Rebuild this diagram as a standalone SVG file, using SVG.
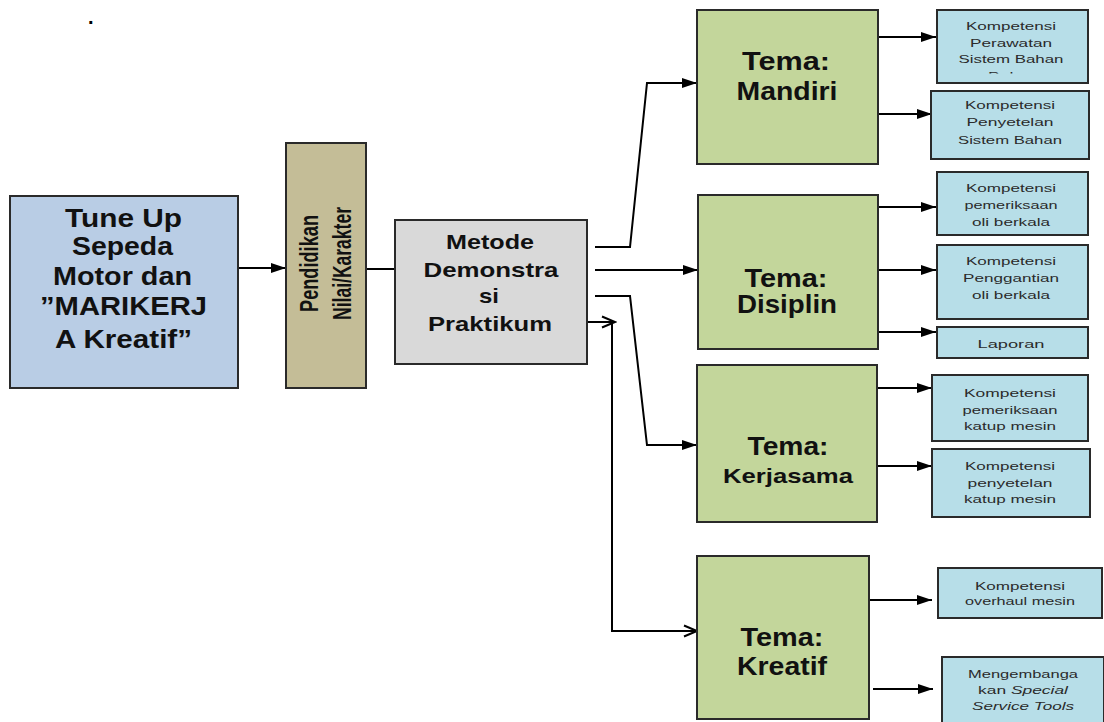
<svg xmlns="http://www.w3.org/2000/svg" width="1104" height="722" viewBox="0 0 1104 722">
<style>
.box{stroke:#2a2a2a;stroke-width:2}
.main{fill:#b9cde5}
.tan{fill:#c4bd97}
.gray{fill:#d9d9d9}
.green{fill:#c3d69b}
.comp{fill:#b7dee8}
.big{font-family:"Liberation Sans",Arial,sans-serif;font-weight:bold;fill:#111;text-anchor:middle}
.small{font-family:"Liberation Sans",Arial,sans-serif;font-size:11.5px;fill:#2b2b2b;text-anchor:middle}
.rot{font-family:"Liberation Sans",Arial,sans-serif;font-size:26px;font-weight:bold;fill:#111;text-anchor:middle}
.ln{fill:none;stroke:#000;stroke-width:2}
</style>
<defs>
<marker id="f" markerUnits="userSpaceOnUse" markerWidth="16" markerHeight="12" refX="15" refY="6" orient="auto"><path d="M0,1 L15,6 L0,11 z" fill="#000"/></marker>
<marker id="o" markerUnits="userSpaceOnUse" markerWidth="16" markerHeight="14" refX="14" refY="7" orient="auto"><path d="M1,1.5 L14,7 L1,12.5" fill="none" stroke="#000" stroke-width="2"/></marker>
<clipPath id="c1"><rect x="937" y="10" width="151" height="63.5"/></clipPath>
</defs>
<text x="88" y="24" font-family="Liberation Sans, Arial, sans-serif" font-size="20" font-weight="bold" fill="#000">.</text>

<g id="connectors">
<path class="ln" d="M238,268 H286" marker-end="url(#f)"/>
<path class="ln" d="M355,269 H395"/>
<path class="ln" d="M595,247 H630 L647,83 H697" marker-end="url(#f)"/>
<path class="ln" d="M595,270 H698" marker-end="url(#f)"/>
<path class="ln" d="M595,296 H630 L647,445 H697" marker-end="url(#f)"/>
<path class="ln" d="M585,322 H615" marker-end="url(#o)"/>
<path class="ln" d="M612,322 V631 H697" marker-end="url(#o)"/>
<path class="ln" d="M875,37 H936" marker-end="url(#f)"/>
<path class="ln" d="M875,114 H932" marker-end="url(#f)"/>
<path class="ln" d="M876,207 H936" marker-end="url(#f)"/>
<path class="ln" d="M876,270 H936" marker-end="url(#f)"/>
<path class="ln" d="M876,332 H936" marker-end="url(#f)"/>
<path class="ln" d="M877,388 H932" marker-end="url(#f)"/>
<path class="ln" d="M877,466 H932" marker-end="url(#f)"/>
<path class="ln" d="M869,600 H932" marker-end="url(#f)"/>
<path class="ln" d="M873,689 H933" marker-end="url(#f)"/>
</g>

<g id="tuneup">
<rect class="box main" x="10" y="196" width="228" height="192"/>
<text class="big" font-size="25" x="123.5" y="227" textLength="117" lengthAdjust="spacingAndGlyphs">Tune Up</text>
<text class="big" font-size="25" x="122.5" y="255" textLength="101" lengthAdjust="spacingAndGlyphs">Sepeda</text>
<text class="big" font-size="25" x="122.5" y="285" textLength="139" lengthAdjust="spacingAndGlyphs">Motor dan</text>
<text class="big" font-size="25" x="123.5" y="315" textLength="167" lengthAdjust="spacingAndGlyphs">”MARIKERJ</text>
<text class="big" font-size="25" x="123.5" y="348" textLength="137" lengthAdjust="spacingAndGlyphs">A Kreatif”</text>
</g>

<g id="pendidikan">
<rect class="box tan" x="286" y="143" width="80" height="245"/>
<text class="rot" transform="translate(318,263.5) rotate(-90)" x="0" y="0" textLength="97" lengthAdjust="spacingAndGlyphs">Pendidikan</text>
<text class="rot" transform="translate(351,263.5) rotate(-90)" x="0" y="0" textLength="113" lengthAdjust="spacingAndGlyphs">Nilai/Karakter</text>
</g>

<g id="metode">
<rect class="box gray" x="395" y="220" width="192" height="144"/>
<text class="big" font-size="21" x="490" y="249" textLength="88" lengthAdjust="spacingAndGlyphs">Metode</text>
<text class="big" font-size="21" x="491" y="277" textLength="135" lengthAdjust="spacingAndGlyphs">Demonstra</text>
<text class="big" font-size="21" x="489" y="303" textLength="20" lengthAdjust="spacingAndGlyphs">si</text>
<text class="big" font-size="21" x="490" y="331" textLength="124" lengthAdjust="spacingAndGlyphs">Praktikum</text>
</g>

<g id="mandiri">
<rect class="box green" x="697" y="10" width="181" height="154"/>
<text class="big" font-size="25" x="786" y="70" textLength="88" lengthAdjust="spacingAndGlyphs">Tema:</text>
<text class="big" font-size="25" x="787" y="100" textLength="101" lengthAdjust="spacingAndGlyphs">Mandiri</text>
</g>

<g id="disiplin">
<rect class="box green" x="698" y="195" width="180" height="154"/>
<text class="big" font-size="25" x="786" y="287" textLength="83" lengthAdjust="spacingAndGlyphs">Tema:</text>
<text class="big" font-size="25" x="787" y="313" textLength="100" lengthAdjust="spacingAndGlyphs">Disiplin</text>
</g>

<g id="kerjasama">
<rect class="box green" x="697" y="365" width="180" height="157"/>
<text class="big" font-size="25" x="788" y="455" textLength="81" lengthAdjust="spacingAndGlyphs">Tema:</text>
<text class="big" font-size="21" x="788" y="483" textLength="130" lengthAdjust="spacingAndGlyphs">Kerjasama</text>
</g>

<g id="kreatif">
<rect class="box green" x="697" y="556" width="172" height="163"/>
<text class="big" font-size="25" x="782" y="646" textLength="83" lengthAdjust="spacingAndGlyphs">Tema:</text>
<text class="big" font-size="25" x="782" y="675" textLength="90" lengthAdjust="spacingAndGlyphs">Kreatif</text>
</g>

<g id="k1">
<rect class="box comp" x="937" y="10" width="151" height="73"/>
<text class="small" x="1011" y="30" textLength="90" lengthAdjust="spacingAndGlyphs">Kompetensi</text>
<text class="small" x="1011" y="46.5" textLength="82" lengthAdjust="spacingAndGlyphs">Perawatan</text>
<text class="small" x="1011" y="63" textLength="105" lengthAdjust="spacingAndGlyphs">Sistem Bahan</text>
<text class="small" x="1011" y="79.5" clip-path="url(#c1)" textLength="46" lengthAdjust="spacingAndGlyphs">Bakar</text>
</g>

<g id="k2">
<rect class="box comp" x="931" y="91" width="158" height="68"/>
<text class="small" x="1010" y="109" textLength="90" lengthAdjust="spacingAndGlyphs">Kompetensi</text>
<text class="small" x="1010" y="126" textLength="87" lengthAdjust="spacingAndGlyphs">Penyetelan</text>
<text class="small" x="1010" y="144" textLength="104" lengthAdjust="spacingAndGlyphs">Sistem Bahan</text>
</g>

<g id="k3">
<rect class="box comp" x="937" y="172" width="151" height="63"/>
<text class="small" x="1011" y="191.5" textLength="90" lengthAdjust="spacingAndGlyphs">Kompetensi</text>
<text class="small" x="1011" y="209" textLength="93" lengthAdjust="spacingAndGlyphs">pemeriksaan</text>
<text class="small" x="1011" y="226" textLength="78" lengthAdjust="spacingAndGlyphs">oli berkala</text>
</g>

<g id="k4">
<rect class="box comp" x="937" y="245" width="151" height="74"/>
<text class="small" x="1011" y="265" textLength="90" lengthAdjust="spacingAndGlyphs">Kompetensi</text>
<text class="small" x="1011" y="281.5" textLength="96" lengthAdjust="spacingAndGlyphs">Penggantian</text>
<text class="small" x="1011" y="299" textLength="78" lengthAdjust="spacingAndGlyphs">oli berkala</text>
</g>

<g id="k5">
<rect class="box comp" x="937" y="327" width="151" height="31"/>
<text class="small" x="1011" y="348" textLength="67" lengthAdjust="spacingAndGlyphs">Laporan</text>
</g>

<g id="k6">
<rect class="box comp" x="932" y="375" width="156" height="66"/>
<text class="small" x="1010" y="396.5" textLength="92" lengthAdjust="spacingAndGlyphs">Kompetensi</text>
<text class="small" x="1010" y="413.5" textLength="95" lengthAdjust="spacingAndGlyphs">pemeriksaan</text>
<text class="small" x="1010" y="430" textLength="92" lengthAdjust="spacingAndGlyphs">katup mesin</text>
</g>

<g id="k7">
<rect class="box comp" x="932" y="449" width="158" height="68"/>
<text class="small" x="1010" y="470" textLength="90" lengthAdjust="spacingAndGlyphs">Kompetensi</text>
<text class="small" x="1010" y="486.5" textLength="85" lengthAdjust="spacingAndGlyphs">penyetelan</text>
<text class="small" x="1010" y="503" textLength="92" lengthAdjust="spacingAndGlyphs">katup mesin</text>
</g>

<g id="k8">
<rect class="box comp" x="938" y="568" width="164" height="50"/>
<text class="small" x="1020" y="590" textLength="90" lengthAdjust="spacingAndGlyphs">Kompetensi</text>
<text class="small" x="1020" y="605" textLength="110" lengthAdjust="spacingAndGlyphs">overhaul mesin</text>
</g>

<g id="k9">
<rect class="box comp" x="942" y="657" width="162" height="70"/>
<text class="small" x="1023" y="678" textLength="110" lengthAdjust="spacingAndGlyphs">Mengembanga</text>
<text class="small" x="1023" y="694" textLength="90" lengthAdjust="spacingAndGlyphs">kan <tspan font-style="italic">Special</tspan></text>
<text class="small" x="1023" y="710" textLength="102" lengthAdjust="spacingAndGlyphs" font-style="italic">Service Tools</text>
</g>
</svg>
